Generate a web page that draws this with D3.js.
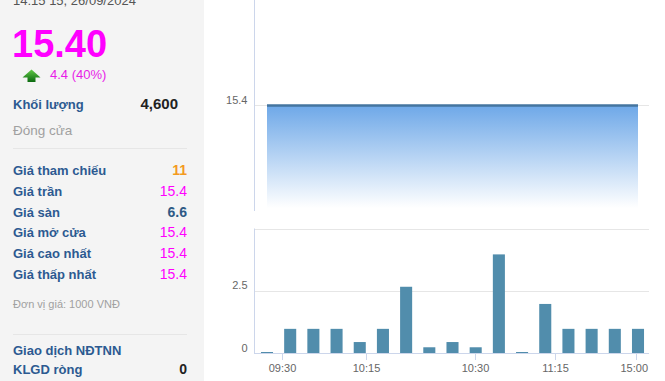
<!DOCTYPE html>
<html>
<head>
<meta charset="utf-8">
<script src="https://cdn.jsdelivr.net/npm/d3@7"></script>
<style>
html,body{margin:0;padding:0;background:#fff;}
svg{display:block;font-family:"Liberation Sans",Arial,sans-serif;}
</style>
</head>
<body>
<svg id="chart" width="665" height="381"></svg>
<script>
// ---- data ----
const updateTime = "14:15 15, 26/09/2024";
const lastPrice = "15.40";
const priceChange = "4.4 (40%)";
const volumeLabel = "Khối lượng";
const volumeTotal = "4,600";
const closeLabel = "Đóng cửa";
const infoLabels = ["Giá tham chiếu", "Giá trần", "Giá sàn", "Giá mở cửa", "Giá cao nhất", "Giá thấp nhất"];
const infoValues = ["11", "15.4", "6.6", "15.4", "15.4", "15.4"];
const infoKinds = ["ref", "ceil", "floor", "up", "up", "up"];
const unitNote = "Đơn vị giá: 1000 VNĐ";
const foreignLabels = ["Giao dịch NĐTNN", "KLGD ròng"];
const foreignValues = ["", "0"];

const slots = d3.range(17);
const priceSeries = [15.4, 15.4, 15.4, 15.4, 15.4, 15.4, 15.4, 15.4, 15.4, 15.4, 15.4, 15.4, 15.4, 15.4, 15.4, 15.4, 15.4];
const volumeSeries = [0.04, 0.97, 0.97, 0.97, 0.44, 0.97, 2.66, 0.23, 0.44, 0.23, 3.96, 0.04, 1.97, 0.97, 0.97, 0.97, 0.97];
const priceTicks = [15.4];
const volumeTicks = [0, 2.5, 5];
const volumeTickLabels = ["0", "2.5", ""];
const xTickLabels = ["09:30", "10:15", "10:30", "11:15", "15:00"];
const xTickSlots = [0.66, 4.26, 8.97, 12.43, 15.9];

// ---- layout ----
const svg = d3.select("#chart");
const colors = {ref: "#f39a1e", ceil: "#ff00ff", floor: "#2f5a86", up: "#ff00ff", label: "#2c5a91"};

// left panel
svg.append("rect").attr("x", 0).attr("y", 0).attr("width", 204).attr("height", 381).attr("fill", "#f4f4f4");

svg.append("text").attr("x", 13).attr("y", 5).attr("font-size", 13).attr("fill", "#555").text(updateTime);
svg.append("text").attr("x", 12).attr("y", 57).attr("font-size", 38).attr("font-weight", "bold").attr("fill", "#ff00ff").text(lastPrice);

const defs = svg.append("defs");
const ag = defs.append("linearGradient").attr("id", "arrowG").attr("x1", 0).attr("y1", 0).attr("x2", 0).attr("y2", 1);
ag.append("stop").attr("offset", "0%").attr("stop-color", "#62c947");
ag.append("stop").attr("offset", "100%").attr("stop-color", "#0b6a10");
svg.append("path").attr("d", "M31.5,69.5 L40.5,77.5 L35.5,77.5 L35.5,82 L27.5,82 L27.5,77.5 L22.5,77.5 Z").attr("fill", "url(#arrowG)");
svg.append("text").attr("x", 50).attr("y", 79).attr("font-size", 13).attr("fill", "#e81ce8").text(priceChange);

svg.append("text").attr("x", 13).attr("y", 109).attr("font-size", 13).attr("font-weight", "bold").attr("fill", colors.label).text(volumeLabel);
svg.append("text").attr("x", 178).attr("y", 109).attr("text-anchor", "end").attr("font-size", 15).attr("font-weight", "bold").attr("fill", "#222").text(volumeTotal);
svg.append("text").attr("x", 13).attr("y", 135).attr("font-size", 13.5).attr("fill", "#a0a0a0").text(closeLabel);

svg.append("line").attr("x1", 13).attr("x2", 187).attr("y1", 148.5).attr("y2", 148.5).attr("stroke", "#e6e6e6");

const rowY = d3.scaleLinear().domain([0, 5]).range([175, 279]);
infoLabels.forEach((lab, i) => {
  svg.append("text").attr("x", 13).attr("y", rowY(i)).attr("font-size", 13).attr("font-weight", "bold").attr("fill", colors.label).text(lab);
  svg.append("text").attr("x", 187).attr("y", rowY(i)).attr("text-anchor", "end").attr("font-size", 14)
    .attr("font-weight", infoKinds[i] === "ceil" || infoKinds[i] === "up" ? "normal" : "bold")
    .attr("fill", colors[infoKinds[i]]).text(infoValues[i]);
});

svg.append("text").attr("x", 13).attr("y", 308).attr("font-size", 11).attr("fill", "#a0a0a0").text(unitNote);
svg.append("line").attr("x1", 13).attr("x2", 187).attr("y1", 334.5).attr("y2", 334.5).attr("stroke", "#e6e6e6");
foreignLabels.forEach((lab, i) => {
  const y = 355 + i * 19;
  svg.append("text").attr("x", 13).attr("y", y).attr("font-size", 13).attr("font-weight", "bold").attr("fill", colors.label).text(lab);
  svg.append("text").attr("x", 187).attr("y", y).attr("text-anchor", "end").attr("font-size", 14).attr("font-weight", "bold").attr("fill", "#222").text(foreignValues[i]);
});

// ---- charts ----
const plotL = 254, plotR = 649;
const x = d3.scaleLinear().domain([0, 16]).range([267, 638]);

// price chart
const yP = d3.scaleLinear().domain([14.4, 16.4]).range([211, 0]);
const pg = defs.append("linearGradient").attr("id", "areaG").attr("x1", 0).attr("y1", 0).attr("x2", 0).attr("y2", 1);
pg.append("stop").attr("offset", "0%").attr("stop-color", "#6ea8e8");
pg.append("stop").attr("offset", "100%").attr("stop-color", "#ffffff");

svg.append("g").selectAll("line").data(priceTicks).join("line")
  .attr("x1", plotL).attr("x2", plotR).attr("y1", d => Math.round(yP(d)) + 0.5).attr("y2", d => Math.round(yP(d)) + 0.5)
  .attr("stroke", "#e6e6e6");
svg.append("g").selectAll("text").data(priceTicks).join("text")
  .attr("x", 247.5).attr("y", d => yP(d) - 1.5).attr("text-anchor", "end").attr("font-size", 11).attr("fill", "#666")
  .text(d => d);

const areaData = slots.map(i => ({i, v: priceSeries[i]}));
svg.append("path").datum(areaData)
  .attr("d", d3.area().x(d => x(d.i)).y0(yP.range()[0] - 3).y1(d => yP(d.v)))
  .attr("fill", "url(#areaG)");
svg.append("path").datum(areaData)
  .attr("d", d3.line().x(d => x(d.i)).y(d => yP(d.v)))
  .attr("fill", "none").attr("stroke", "#44759f").attr("stroke-width", 2.5);

svg.append("line").attr("x1", plotL + 0.5).attr("x2", plotL + 0.5).attr("y1", 0).attr("y2", 211).attr("stroke", "#ccd6eb");

// volume chart
const yV = d3.scaleLinear().domain([0, 5]).range([353, 228.5]);
svg.append("g").selectAll("line").data(volumeTicks).join("line")
  .attr("x1", plotL).attr("x2", plotR).attr("y1", d => Math.round(yV(d)) + 0.5).attr("y2", d => Math.round(yV(d)) + 0.5)
  .attr("stroke", (d, i) => i === 0 ? "#ccd6eb" : "#e6e6e6");
svg.append("g").selectAll("text").data(volumeTicks).join("text")
  .attr("x", 247.5).attr("y", d => yV(d) - 1.5).attr("text-anchor", "end").attr("font-size", 11).attr("fill", "#666")
  .text((d, i) => volumeTickLabels[i]);

const bw = (x(1) - x(0)) * 0.52;
svg.append("g").selectAll("rect").data(slots).join("rect")
  .attr("x", i => x(i) - bw / 2).attr("width", bw)
  .attr("y", i => yV(volumeSeries[i])).attr("height", i => yV(0) - yV(volumeSeries[i]))
  .attr("fill", "#518dac");

svg.append("line").attr("x1", plotL + 0.5).attr("x2", plotL + 0.5).attr("y1", 228.5).attr("y2", 353).attr("stroke", "#ccd6eb");

// x axis ticks
const xt = svg.append("g");
xTickSlots.forEach((s, i) => {
  const px = Math.round(x(s)) + 0.5;
  xt.append("line").attr("x1", px).attr("x2", px).attr("y1", 353).attr("y2", 360).attr("stroke", "#ccd6eb");
  const t = xt.append("text").attr("x", px).attr("y", 372).attr("text-anchor", "middle").attr("font-size", 11).attr("fill", "#666").text(xTickLabels[i]);
  const w = t.node().getComputedTextLength();
  if (px + w / 2 > plotR) t.attr("text-anchor", "end").attr("x", plotR - 1);
});
</script>
</body>
</html>
